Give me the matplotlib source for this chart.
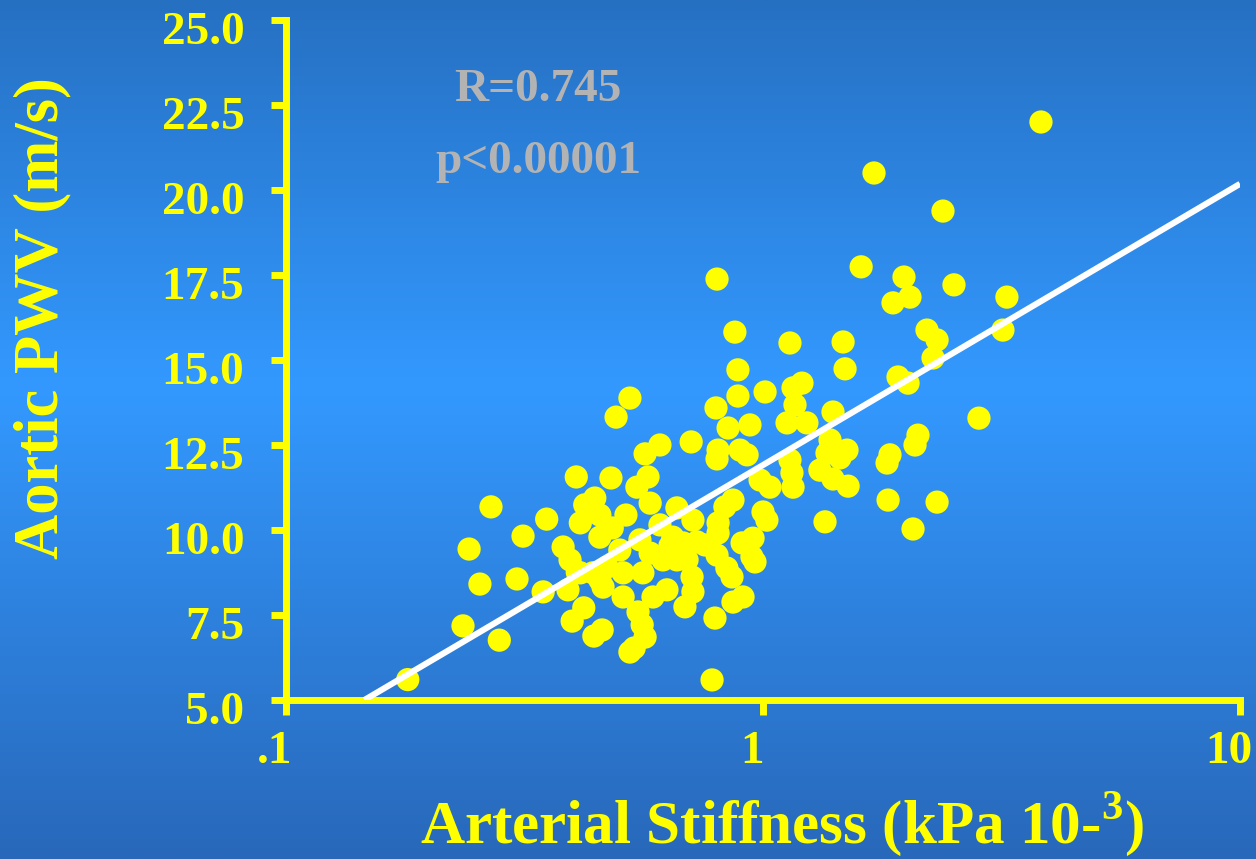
import numpy as np
import matplotlib
matplotlib.use('Agg')
import matplotlib.pyplot as plt
from matplotlib.transforms import ScaledTranslation


# arterial stiffness (kPa 10^-3) vs aortic PWV (m/s)
stiffness = [0.18, 0.235, 0.255, 0.242, 0.269, 0.28, 0.305, 0.314, 0.352, 0.346,
             0.406, 0.48, 0.492, 0.526,
             0.381, 0.394, 0.408, 0.39, 0.398, 0.421, 0.442, 0.46, 0.526, 0.537, 0.547, 0.558, 0.566,
             0.423, 0.444, 0.414, 0.455, 0.483, 0.455, 0.516,
             0.414, 0.44, 0.471, 0.509, 0.56, 0.462, 0.509, 0.455,
             0.552, 0.58, 0.617, 0.66, 0.574, 0.544, 0.58, 0.566, 0.608, 0.707,
             0.66, 0.713, 0.805, 0.805, 0.647, 0.68, 0.727, 0.904, 0.953,
             0.801, 0.84, 0.861, 0.948, 0.962, 0.71, 0.713, 0.629, 0.588, 0.686, 0.865, 0.908, 0.793, 0.782,
             0.797, 0.886, 1.01, 1.156, 1.207, 1.167, 1.123, 1.236, 0.845, 0.939,
             0.805, 0.801, 0.895, 0.926, 1.139, 1.15, 1.156, 0.986, 1.034, 0.865, 0.832, 1.0, 1.019,
             0.801, 0.873, 0.886, 1.139, 1.472, 1.486,
             1.402, 1.382, 1.362, 1.5, 1.45, 1.316, 1.402, 1.508,
             1.919, 2.014, 2.272, 2.317, 2.207, 2.836, 1.846, 1.82, 2.113, 2.083,
             1.829, 2.317, 1.349, 2.063,
             1.709, 2.384, 3.826, 1.606, 1.975, 2.033, 1.873, 2.514, 3.246, 3.184,
             0.608, 0.638, 0.693, 0.756, 0.501]
pwv = [5.6, 7.18, 8.41, 9.44, 10.68, 6.76, 8.56, 9.82, 10.32, 8.18,
       11.56, 11.53, 13.32, 13.88,
       9.5, 9.12, 8.76, 8.24, 7.32, 7.71, 6.88, 7.06, 6.41, 6.53, 7.59, 7.21, 6.85,
       10.74, 10.94, 10.21, 10.44, 10.06, 9.79, 10.44,
       8.74, 8.74, 8.91, 8.74, 8.74, 8.32, 8.03, 8.53,
       9.71, 9.32, 9.12, 9.12, 11.56, 11.26, 10.79, 12.24, 12.5, 12.59,
       10.65, 10.29, 10.21, 9.91, 9.79, 9.62, 9.65, 9.62, 9.76,
       9.26, 8.88, 8.62, 9.21, 9.06, 8.62, 8.18, 8.24, 8.03, 7.74, 7.88, 8.03, 7.41, 5.59,
       13.59, 13.94, 14.06, 14.18, 14.32, 13.68, 13.15, 13.15, 13.0, 13.09,
       12.35, 12.09, 12.35, 12.21, 12.06, 11.68, 11.26, 11.47, 11.26, 10.88, 10.68, 10.53, 10.29,
       17.38, 15.82, 14.71, 15.5, 15.53, 14.74,
       13.47, 12.65, 12.26, 12.35, 12.12, 11.76, 11.5, 11.29,
       14.5, 14.32, 15.06, 15.59, 15.88, 13.29, 12.21, 11.97, 12.79, 12.5,
       10.88, 10.82, 10.24, 10.03,
       20.5, 19.38, 22.0, 17.74, 17.44, 16.85, 16.68, 17.21, 16.85, 15.88,
       10.15, 9.53, 9.12, 9.56, 9.41]

# regression line end points
fit_x = [0.146, 10.0]
fit_y = [5.0, 20.18]

yticks = [5.0, 7.5, 10.0, 12.5, 15.0, 17.5, 20.0, 22.5, 25.0]
xticks = [0.1, 1, 10]
xticklabels = ['.1', '1', '10']

YELLOW = '#ffff00'
GREY = '#b3b3b3'

plt.rcParams['font.family'] = 'Liberation Serif'
plt.rcParams['font.weight'] = 'bold'
plt.rcParams['mathtext.fontset'] = 'custom'
plt.rcParams['mathtext.rm'] = 'Liberation Serif:bold'

fig = plt.figure(figsize=(12.56, 8.59), dpi=100)

# blue vertical gradient background
bg = fig.add_axes([0, 0, 1, 1], zorder=0)
stops = np.array([0.0, 0.45, 1.0])
r = np.interp(np.linspace(0, 1, 400), stops, [38, 51, 40])
g = np.interp(np.linspace(0, 1, 400), stops, [112, 153, 104])
b = np.interp(np.linspace(0, 1, 400), stops, [194, 255, 186])
grad = np.dstack([r, g, b])[0][:, None, :] / 255.
bg.imshow(grad, aspect='auto', extent=[0, 1, 0, 1])
bg.set_axis_off()

ax = fig.add_axes([286/1256, 1 - 700/859, (1240 - 286)/1256, (700 - 20)/859], zorder=1)
ax.patch.set_alpha(0)

ax.scatter(stiffness, pwv, s=280, color=YELLOW, edgecolors='none', zorder=2, clip_on=False)
ax.plot(fit_x, fit_y, color='white', lw=4.4, zorder=3, solid_capstyle='butt')

ax.set_xscale('log')
ax.set_xlim(0.1, 10)
ax.set_ylim(5, 25)

for s in ['top', 'right']:
    ax.spines[s].set_visible(False)
for s in ['left', 'bottom']:
    ax.spines[s].set_color(YELLOW)
    ax.spines[s].set_linewidth(5)
    ax.spines[s].set_capstyle('projecting')

ax.set_xticks(xticks, xticklabels)
ax.xaxis.set_minor_locator(matplotlib.ticker.NullLocator())
ax.set_yticks(yticks, ['%.1f' % v for v in yticks])
ax.tick_params(axis='both', colors=YELLOW, width=5, length=11, labelsize=34)
ax.tick_params(axis='y', pad=19)
ax.tick_params(axis='x', pad=11)

for lab in ax.get_xticklabels():
    lab.set_transform(lab.get_transform() + ScaledTranslation(-8/72, 0, fig.dpi_scale_trans))
for lab in ax.get_yticklabels():
    lab.set_transform(lab.get_transform() + ScaledTranslation(0, -6/72, fig.dpi_scale_trans))

fig.text(42/1256, 1 - 318/859, 'Aortic PWV (m/s)', rotation=90, color=YELLOW,
         fontsize=45, fontweight='bold', ha='center', va='center')
fig.text(782/1256, 1 - 824/859, 'Arterial Stiffness (kPa 10-$^{\\mathrm{3}}$)', color=YELLOW,
         fontsize=44, fontweight='bold', ha='center', va='center')

fig.text(538/1256, 1 - 90/859, 'R=0.745', color=GREY, fontsize=34,
         fontweight='bold', ha='center', va='center')
fig.text(538/1256, 1 - 162/859, 'p<0.00001', color=GREY, fontsize=34,
         fontweight='bold', ha='center', va='center')

fig.savefig('out.png', dpi=100)
